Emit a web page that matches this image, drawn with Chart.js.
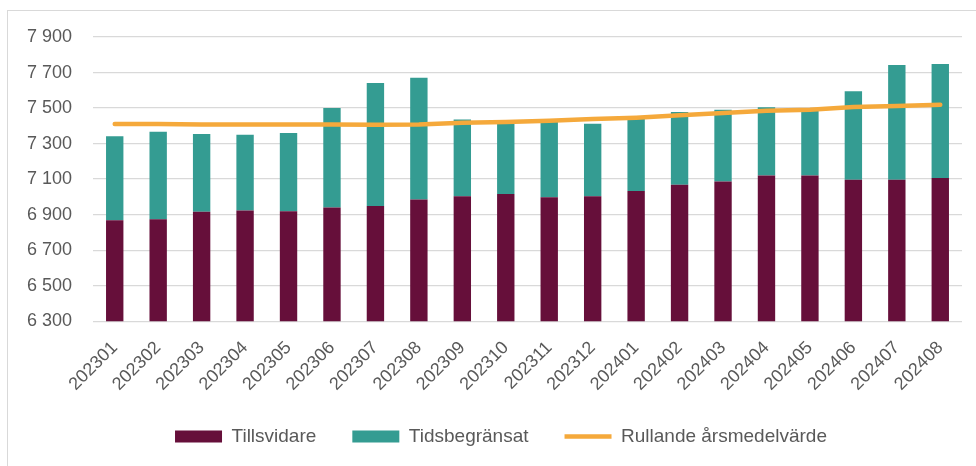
<!DOCTYPE html>
<html>
<head>
<meta charset="utf-8">
<script src="https://cdn.jsdelivr.net/npm/chart.js@4.4.1/dist/chart.umd.min.js"></script>
<style>
  html, body { margin: 0; padding: 0; background: #fff; }
  #frame { position: absolute; left: 7px; top: 10px; width: 1000px; height: 500px; border: 1px solid #d9d9d9; }
  #wrap { position: absolute; left: 0; top: 0; width: 976px; height: 466px; }
</style>
</head>
<body>
<div id="frame"></div>
<div id="wrap"><canvas id="myChart" width="976" height="466"></canvas></div>
<script>
const months = ['202301', '202302', '202303', '202304', '202305', '202306', '202307', '202308', '202309', '202310',
  '202311', '202312', '202401', '202402', '202403', '202404', '202405', '202406', '202407', '202408'];

// Tillsvidare (bottom part of each bar)
const tillsvidare = [6868, 6874, 6917, 6924, 6919, 6941, 6949, 6986, 7003, 7016,
  6998, 7003, 7033, 7069, 7086, 7120, 7120, 7097, 7097, 7107];

// Tidsbegränsat (stacked on top)
const tidsbegransat = [473, 493, 437, 426, 440, 559, 692, 685, 432, 400,
  423, 409, 405, 409, 405, 384, 367, 497, 645, 641];

// Rullande årsmedelvärde
const rullande = [7410, 7410, 7408, 7407, 7407, 7407, 7406, 7408, 7418, 7421,
  7429, 7438, 7446, 7459, 7472, 7485, 7491, 7506, 7512, 7518];

const yTicks = [6300, 6500, 6700, 6900, 7100, 7300, 7500, 7700, 7900];

const fontFamily = "'Liberation Sans', Arial, sans-serif";
const textColor = '#595959';

// nudge the legend a bit to the right, like the original
const legendShift = {
  id: 'legendShift',
  afterLayout(chart) {
    if (chart.legend) {
      chart.legend.left += 20;
      chart.legend.right += 20;
    }
  },
};

const ctx = document.getElementById('myChart');

new Chart(ctx, {
  type: 'bar',
  data: {
    labels: months,
    datasets: [
      {
        label: 'Tillsvidare',
        data: tillsvidare,
        backgroundColor: '#660F3A',
        borderWidth: 0,
        barPercentage: 0.8,
        categoryPercentage: 0.5,
        stack: 'bars',
        order: 1,
      },
      {
        label: 'Tidsbegränsat',
        data: tidsbegransat,
        backgroundColor: '#349C92',
        borderWidth: 0,
        barPercentage: 0.8,
        categoryPercentage: 0.5,
        stack: 'bars',
        order: 1,
      },
      {
        type: 'line',
        label: 'Rullande årsmedelvärde',
        data: rullande,
        borderColor: '#F5A93B',
        backgroundColor: '#F5A93B',
        borderWidth: 4.5,
        borderCapStyle: 'round',
        pointRadius: 0,
        tension: 0,
        stack: 'avg',
        order: 0, // draw on top of bars
      },
    ],
  },
  options: {
    responsive: false,
    animation: false,
    layout: {
      padding: { left: 0, right: 14, top: 37, bottom: 10 },
    },
    scales: {
      x: {
        stacked: true,
        afterFit: (scale) => { scale.height -= 12; },
        grid: { display: false },
        border: { display: false },
        ticks: {
          color: textColor,
          font: { family: fontFamily, size: 18 },
          minRotation: 45,
          maxRotation: 45,
          autoSkip: false,
          padding: 8,
        },
      },
      y: {
        stacked: true,
        min: 6300,
        max: 7900,
        afterFit: (scale) => { scale.width = 93; },
        afterBuildTicks: (scale) => { scale.ticks = yTicks.map((v) => ({ value: v })); },
        grid: { color: '#d9d9d9', lineWidth: 1.3, drawTicks: false },
        border: { display: false },
        ticks: {
          color: textColor,
          font: { family: fontFamily, size: 18 },
          padding: 21,
          callback: (v) => String(v).replace(/\B(?=(\d{3})+(?!\d))/g, ' '),
        },
      },
    },
    plugins: {
      legend: {
        position: 'bottom',
        labels: {
          color: textColor,
          font: { family: fontFamily, size: 19 },
          usePointStyle: true,
          pointStyleWidth: 47,
          boxHeight: 12,
          padding: 36,
          sort: (a, b) => a.datasetIndex - b.datasetIndex,
          generateLabels: (chart) => {
            const items = Chart.defaults.plugins.legend.labels.generateLabels(chart);
            items.forEach((item) => {
              item.pointStyle = item.text === 'Rullande årsmedelvärde' ? 'line' : 'rect';
            });
            return items;
          },
        },
      },
      tooltip: { enabled: false },
    },
  },
  plugins: [legendShift],
});
</script>
</body>
</html>
